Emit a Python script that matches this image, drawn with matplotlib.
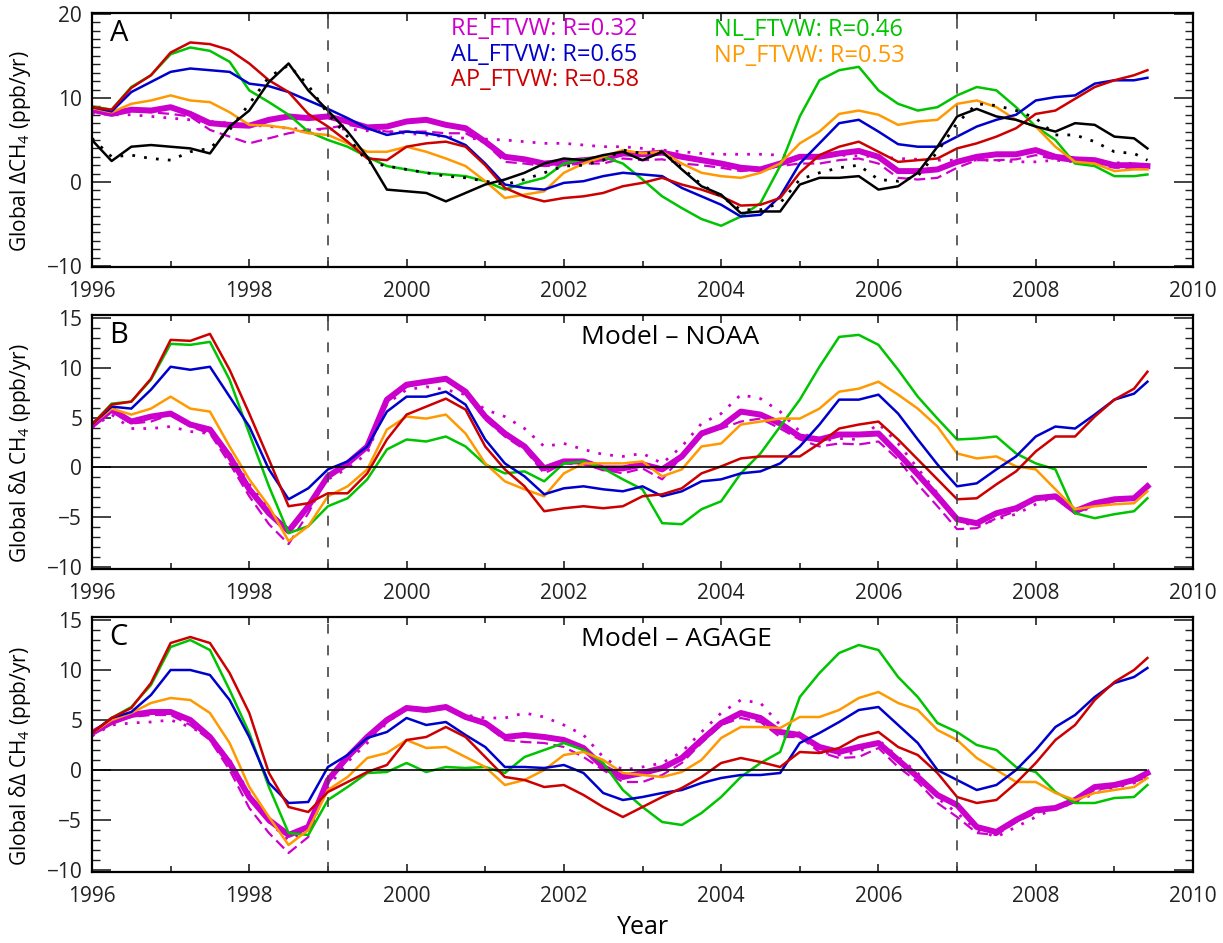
import numpy as np
import matplotlib
matplotlib.use("Agg")
import matplotlib.pyplot as plt
from matplotlib.ticker import MultipleLocator

plt.rcParams['font.family'] = ['Open Sans', 'DejaVu Sans']
plt.rcParams['mathtext.fontset'] = 'custom'
plt.rcParams['mathtext.rm'] = 'Open Sans'
plt.rcParams['mathtext.it'] = 'Open Sans'

# quarterly samples, last point is the end of the record
t = np.append(np.arange(1996.0, 2009.3, 0.25), 2009.42)

# ---- panel A: global CH4 growth rate ----
a_re = [8.6, 8.1, 8.6, 8.5, 8.9, 8.1, 7.0, 6.8, 6.7, 7.4, 7.8, 7.6, 7.8, 7.2, 6.5, 6.6, 7.2, 7.4, 6.8, 6.4,
        4.8, 3.0, 2.7, 2.2, 2.4, 2.6, 2.8, 3.4, 3.3, 3.5, 3.0, 2.6, 2.2, 1.7, 1.5, 2.2, 3.0, 3.0, 3.4, 3.7,
        3.0, 1.3, 1.3, 1.5, 2.4, 3.0, 3.3, 3.3, 3.8, 3.0, 2.7, 2.6, 2.0, 2.0, 1.9]
a_re_dash = [8.5, 8.1, 8.5, 8.3, 8.1, 7.8, 6.2, 5.4, 4.6, 5.2, 5.8, 6.2, 6.4, 6.8, 6.4, 6.0, 6.0, 6.0, 5.8, 5.8,
             4.6, 2.4, 2.2, 1.9, 2.0, 2.2, 2.2, 2.8, 2.6, 2.7, 2.2, 2.0, 1.7, 1.3, 1.5, 1.9, 2.2, 2.2, 2.6, 2.8,
             2.2, 0.5, 0.3, 0.5, 1.7, 2.6, 2.6, 2.7, 3.2, 2.7, 2.4, 2.2, 1.7, 1.7, 1.7]
a_re_dot = [8.2, 8.0, 8.0, 7.8, 7.6, 7.4, 7.2, 7.0, 6.8, 6.6, 6.4, 6.2, 6.3, 6.3, 6.1, 6.0, 5.8, 5.6, 5.4, 5.2,
            5.1, 5.0, 4.8, 4.6, 4.6, 4.4, 4.2, 4.2, 4.0, 3.8, 3.6, 3.4, 3.3, 3.3, 3.3, 3.2, 3.0, 3.0, 3.2, 3.1,
            3.0, 2.8, 2.7, 2.6, 2.6, 2.6, 2.6, 2.4, 2.4, 2.6, 2.4, 2.4, 2.3, 2.2, 2.0]
a_al = [8.9, 8.4, 10.7, 11.9, 13.1, 13.5, 13.3, 13.1, 11.7, 11.4, 10.7, 9.7, 8.7, 7.6, 6.4, 5.6, 6.0, 5.8, 5.4, 4.4,
        2.2, -0.3, -0.7, -0.9, -0.1, 0.1, 0.7, 1.1, 0.9, 0.7, -0.7, -1.7, -2.7, -4.1, -3.9, -1.7, 2.2, 4.6, 7.0, 7.4,
        6.0, 4.5, 4.2, 4.2, 5.4, 6.6, 7.4, 8.0, 9.7, 10.1, 10.3, 11.7, 12.1, 12.1, 12.4]
a_ap = [8.9, 8.6, 11.2, 12.7, 15.4, 16.6, 16.4, 15.7, 14.1, 12.1, 10.7, 8.1, 6.6, 4.8, 2.8, 2.6, 4.2, 4.6, 4.8, 4.2,
        2.0, -0.7, -1.7, -2.3, -1.9, -1.7, -1.3, -0.5, -0.1, 0.5, -0.3, -0.9, -1.7, -2.8, -2.7, -1.9, 1.1, 3.2, 4.2, 4.8,
        3.6, 2.4, 2.6, 2.8, 4.0, 4.6, 5.4, 6.4, 8.1, 8.5, 9.9, 11.3, 12.1, 12.7, 13.3]
a_nl = [9.0, 8.6, 11.3, 12.7, 15.2, 16.0, 15.6, 14.3, 10.9, 9.5, 8.0, 6.0, 5.0, 4.2, 3.0, 1.9, 1.5, 1.1, 0.9, 0.7,
        0.1, -0.9, -0.1, 0.5, 2.2, 2.7, 3.0, 2.2, 0.3, -1.7, -3.1, -4.4, -5.2, -4.1, -2.5, 1.9, 7.8, 12.1, 13.3, 13.7,
        10.9, 9.3, 8.5, 8.9, 10.3, 11.3, 10.9, 8.9, 6.6, 5.0, 2.2, 1.9, 0.7, 0.7, 0.9]
a_np = [8.8, 8.3, 9.3, 9.7, 10.3, 9.7, 9.5, 8.3, 6.8, 6.7, 6.4, 5.8, 5.6, 4.6, 3.6, 3.6, 4.2, 3.6, 2.8, 1.9,
        0.1, -1.9, -1.5, -1.1, 1.1, 2.2, 3.0, 3.8, 3.4, 3.6, 2.2, 1.1, 0.7, 0.5, 1.1, 2.2, 4.6, 6.0, 8.1, 8.5,
        8.0, 6.8, 7.2, 7.4, 9.3, 9.7, 8.9, 7.4, 6.6, 4.2, 2.4, 2.2, 1.3, 1.5, 1.5]
a_noaa = [5.0, 2.5, 4.2, 4.4, 4.2, 4.0, 3.4, 6.6, 8.5, 11.9, 14.1, 10.9, 8.5, 6.0, 3.0, -0.9, -1.1, -1.3, -2.3, -1.3,
          -0.3, 0.3, 1.1, 2.2, 2.8, 2.6, 3.2, 3.6, 2.6, 3.6, 1.5, -0.5, -1.5, -3.7, -3.5, -3.5, -0.3, 0.5, 0.5, 0.7,
          -0.9, -0.5, 1.1, 4.2, 7.8, 8.7, 7.8, 7.4, 6.6, 6.0, 7.0, 6.8, 5.4, 5.2, 4.0]
a_agage = [5.2, 3.0, 3.2, 2.8, 2.6, 3.6, 4.0, 6.2, 9.3, 12.5, 13.9, 11.5, 8.1, 5.4, 2.4, 1.9, 1.5, 1.1, 0.7, 0.5,
           0.1, -0.3, 0.3, 1.1, 1.9, 2.0, 2.6, 3.8, 3.4, 3.6, 1.7, -0.3, -1.7, -3.3, -3.3, -2.5, 0.3, 1.1, 1.7, 2.0,
           0.3, 0.1, 0.7, 3.6, 7.0, 9.3, 9.1, 8.5, 7.6, 5.6, 5.6, 4.8, 3.6, 3.4, 2.6]

# ---- panel B: model minus NOAA ----
b_re = [4.2, 5.8, 4.6, 5.1, 5.4, 4.3, 3.8, 1.1, -2.2, -4.6, -6.4, -3.9, -0.9, 0.4, 2.1, 6.8, 8.3, 8.6, 8.9, 7.6,
        5.1, 3.4, 2.1, -0.1, 0.6, 0.6, -0.1, -0.1, 0.3, -0.2, 1.1, 3.4, 4.1, 5.6, 5.3, 4.4, 3.1, 2.8, 3.3, 3.3,
        3.4, 1.4, -0.7, -2.9, -5.2, -5.6, -4.6, -4.1, -3.1, -2.9, -4.4, -3.6, -3.2, -3.1, -1.9]
b_re_dash = [4.2, 5.6, 4.4, 4.6, 5.3, 4.1, 3.4, 0.4, -2.9, -5.7, -7.7, -4.6, -0.9, 0.4, 2.1, 6.8, 8.1, 8.5, 8.8, 7.4,
             4.8, 3.1, 1.8, -0.6, 0.4, 0.3, -0.2, -0.6, -0.1, -1.2, 1.1, 3.6, 3.9, 4.6, 4.9, 3.9, 2.8, 2.1, 2.4, 2.3,
             2.6, 0.8, -1.7, -3.9, -6.2, -6.1, -5.1, -4.4, -3.2, -3.1, -4.6, -3.7, -3.4, -3.2, -2.2]
b_re_dot = [4.0, 5.3, 3.9, 3.9, 4.1, 3.6, 3.4, 1.4, -1.7, -4.2, -6.6, -3.7, -1.2, -0.1, 1.4, 6.4, 7.8, 8.1, 7.8, 7.3,
            5.8, 5.1, 3.9, 2.1, 2.4, 1.8, 1.3, 1.1, 1.4, 0.4, 2.1, 4.4, 5.4, 7.3, 6.9, 5.6, 3.6, 2.6, 2.9, 2.8,
            4.4, 2.4, -0.1, -2.6, -5.4, -5.9, -5.2, -4.7, -3.7, -2.9, -4.6, -3.9, -3.4, -3.2, -2.2]
b_al = [4.3, 6.1, 5.9, 7.8, 10.1, 9.8, 10.1, 7.1, 4.1, -0.2, -3.2, -2.1, -0.2, 0.6, 2.1, 5.6, 7.1, 7.1, 7.6, 6.3,
        2.8, 0.4, -0.9, -2.7, -2.1, -1.9, -2.2, -2.4, -1.9, -2.9, -2.4, -1.4, -1.2, -0.6, -0.4, 0.4, 2.1, 4.3, 6.8, 6.8,
        7.3, 5.4, 2.8, 0.3, -1.9, -1.6, -0.2, 1.1, 3.1, 4.1, 3.9, 5.3, 6.8, 7.4, 8.6]
b_ap = [4.3, 6.3, 6.6, 8.9, 12.8, 12.7, 13.4, 9.8, 5.4, 0.8, -3.9, -3.6, -2.6, -2.6, -0.6, 2.8, 5.3, 6.1, 6.9, 5.8,
        2.1, -0.2, -1.9, -4.4, -4.1, -3.9, -4.1, -3.9, -2.9, -2.7, -2.1, -0.6, 0.1, 0.9, 1.1, 1.1, 1.1, 2.4, 3.9, 4.3,
        4.6, 2.8, 0.8, -1.2, -3.2, -3.1, -1.7, -0.4, 1.6, 3.1, 3.1, 5.1, 6.8, 7.9, 9.6]
b_nl = [4.3, 6.4, 6.6, 8.8, 12.4, 12.3, 12.6, 8.8, 3.4, -1.9, -6.6, -5.9, -3.9, -3.1, -1.2, 1.8, 2.8, 2.6, 3.1, 2.1,
        0.3, -0.6, -0.4, -1.4, 0.4, 0.6, -0.1, -1.2, -2.2, -5.6, -5.7, -4.2, -3.4, -0.6, 1.4, 4.1, 6.8, 10.1, 13.1, 13.3,
        12.3, 9.8, 7.1, 4.9, 2.8, 2.9, 3.1, 1.4, 0.4, -0.2, -4.6, -5.1, -4.7, -4.4, -3.1]
b_np = [4.3, 5.9, 5.3, 5.9, 7.1, 5.9, 5.6, 2.1, -1.2, -3.9, -7.4, -5.9, -2.9, -1.9, -0.2, 3.8, 5.1, 4.9, 5.3, 3.4,
        0.4, -1.4, -2.2, -2.9, -0.6, 0.4, 0.4, 0.4, 0.6, -0.9, -0.2, 2.1, 2.4, 4.3, 4.6, 4.9, 4.9, 5.9, 7.6, 7.9,
        8.6, 7.3, 5.9, 4.1, 1.4, 0.9, 1.1, 0.1, -0.2, -2.2, -4.2, -3.9, -3.7, -3.6, -2.4]

# ---- panel C: model minus AGAGE ----
c_re = [3.7, 4.8, 5.5, 5.8, 5.8, 5.0, 3.3, 0.7, -2.7, -5.0, -6.5, -5.7, -1.0, 1.3, 3.3, 5.0, 6.2, 6.0, 6.3, 5.3,
        4.7, 3.3, 3.5, 3.3, 3.0, 2.2, 0.3, -0.7, -0.3, 0.2, 1.2, 3.0, 4.7, 5.7, 5.2, 3.8, 3.5, 2.3, 1.8, 2.3,
        2.7, 1.0, -0.7, -2.5, -3.5, -5.7, -6.2, -5.0, -4.0, -3.8, -3.0, -1.7, -1.5, -1.0, -0.3]
c_re_dash = [3.7, 4.8, 5.3, 5.5, 5.5, 4.5, 3.0, 0.0, -3.8, -6.3, -8.3, -6.7, -1.2, 1.3, 3.3, 4.8, 6.2, 5.8, 6.2, 5.2,
             4.5, 3.0, 2.8, 2.7, 2.3, 1.3, 0.0, -1.2, -1.2, -0.5, 0.7, 2.7, 4.5, 5.2, 4.8, 3.3, 3.3, 1.8, 1.2, 1.3,
             2.2, 0.3, -1.2, -3.3, -4.7, -6.3, -6.5, -5.2, -4.3, -3.8, -3.0, -2.0, -1.7, -1.2, -0.7]
c_re_dot = [3.4, 4.5, 4.7, 4.8, 5.0, 4.3, 3.3, 1.0, -2.3, -5.2, -7.0, -6.0, -1.7, 0.8, 2.7, 4.7, 6.3, 6.0, 6.2, 5.5,
            5.2, 5.2, 5.7, 5.3, 4.5, 3.5, 1.3, 0.0, 0.3, 0.7, 1.8, 3.8, 5.7, 7.0, 6.7, 4.5, 3.7, 1.8, 1.5, 1.8,
            3.0, 1.3, -0.3, -2.8, -4.3, -6.0, -6.7, -5.7, -4.7, -3.8, -3.3, -2.3, -1.8, -1.3, -0.7]
c_al = [3.7, 5.2, 5.8, 7.5, 10.0, 10.0, 9.5, 7.0, 3.3, -1.3, -3.3, -3.2, 0.3, 1.5, 3.2, 3.8, 5.2, 4.5, 4.8, 3.5,
        2.3, 0.3, 0.3, 0.2, 0.5, -0.3, -2.3, -3.0, -2.7, -2.3, -2.0, -1.3, -0.8, -0.5, -0.5, -0.3, 2.7, 3.7, 4.8, 6.0,
        6.3, 4.5, 2.7, 0.0, -1.0, -2.0, -1.5, 0.0, 2.0, 4.3, 5.5, 7.3, 8.7, 9.3, 10.2]
c_ap = [3.7, 5.2, 6.2, 8.7, 12.7, 13.3, 12.7, 9.7, 5.7, -0.3, -3.7, -4.2, -2.2, -1.2, -0.2, 0.5, 3.0, 3.3, 4.3, 3.3,
        1.3, -0.7, -1.0, -1.7, -1.5, -2.5, -3.7, -4.7, -3.7, -2.7, -1.8, -0.7, 0.7, 1.2, 0.8, 0.3, 1.8, 1.7, 2.2, 3.3,
        3.8, 2.3, 1.5, -0.3, -2.7, -3.3, -3.0, -1.3, 0.7, 3.0, 4.5, 7.0, 8.8, 10.0, 11.2]
c_nl = [3.7, 5.2, 6.3, 8.5, 12.3, 13.0, 12.0, 8.0, 3.7, -1.7, -6.3, -6.5, -3.0, -1.7, -0.3, -0.2, 0.7, -0.2, 0.3, 0.2,
        0.3, -0.3, 1.3, 2.0, 2.7, 2.0, 0.7, -2.0, -3.7, -5.2, -5.5, -4.3, -2.7, -0.7, 0.7, 1.8, 7.3, 9.7, 11.7, 12.5,
        12.0, 9.3, 7.3, 4.7, 3.8, 2.5, 2.0, 0.3, -0.2, -2.2, -3.3, -3.3, -2.8, -2.7, -1.5]
c_np = [3.7, 5.0, 5.7, 6.7, 7.2, 7.0, 5.7, 2.7, -1.7, -4.7, -7.5, -6.0, -2.0, -0.7, 1.2, 1.7, 3.0, 2.2, 2.3, 1.3,
        0.3, -1.5, -1.0, 0.0, 1.5, 1.8, 1.0, -0.3, -0.5, -0.7, -0.2, 1.0, 3.2, 4.3, 4.3, 4.2, 5.3, 5.3, 6.0, 7.2,
        7.8, 6.7, 6.0, 4.0, 3.0, 1.2, 0.0, -1.2, -1.2, -2.3, -3.0, -2.3, -2.0, -1.7, -0.8]

legend_names = ['RE_FTVW', 'AL_FTVW', 'AP_FTVW', 'NL_FTVW', 'NP_FTVW']
legend_r = [0.32, 0.65, 0.58, 0.46, 0.53]

MAG = '#cc00cc'
BLUE = '#0000cc'
RED = '#cc0000'
GREEN = '#00c400'
ORANGE = '#ff9900'
legend_colors = [MAG, BLUE, RED, GREEN, ORANGE]


def draw_models(ax, re, re_dash, re_dot, al, ap, nl, npp):
    ax.plot(t, re_dot, color=MAG, lw=2.0, ls=(0, (1, 3.3)))
    ax.plot(t, re_dash, color=MAG, lw=1.6, ls=(0, (5, 2.5)))
    ax.plot(t, re, color=MAG, lw=4.3, solid_joinstyle='round')
    ax.plot(t, nl, color=GREEN, lw=1.8)
    ax.plot(t, npp, color=ORANGE, lw=1.8)
    ax.plot(t, al, color=BLUE, lw=1.8)
    ax.plot(t, ap, color=RED, lw=1.8)


def style_axis(ax, ylim, ymajor, ylabel, letter):
    ax.set_xlim(1996, 2010)
    ax.set_ylim(*ylim)
    ax.xaxis.set_major_locator(MultipleLocator(2))
    ax.xaxis.set_minor_locator(MultipleLocator(1))
    ax.yaxis.set_major_locator(MultipleLocator(ymajor))
    ax.yaxis.set_minor_locator(MultipleLocator(1))
    ax.tick_params(which='both', direction='in', top=True, right=True, colors='#222222')
    ax.tick_params(axis='x', which='major', length=6, width=1.2, labelsize=15, pad=10)
    ax.tick_params(axis='x', which='minor', length=4, width=1.2)
    ax.tick_params(axis='y', which='major', length=14, width=1.2, labelsize=15, pad=7)
    ax.tick_params(axis='y', which='minor', length=6, width=1.0)
    for s in ax.spines.values():
        s.set_linewidth(1.6)
    for yr in (1999, 2007):
        ax.axvline(yr, color='#444444', lw=1.2, ls=(0, (6, 7)))
    ax.set_ylabel(ylabel, fontsize=15)
    ax.yaxis.set_label_coords(-0.054, 0.455)
    ax.text(0.016, 0.975, letter, transform=ax.transAxes, fontsize=21,
            ha='left', va='top')


fig = plt.figure(figsize=(12.23, 9.43), dpi=100)
left, width = 0.0752, 0.9003
axA = fig.add_axes([left, 0.7169, width, 0.2693])
axB = fig.add_axes([left, 0.3966, width, 0.2694])
axC = fig.add_axes([left, 0.0753, width, 0.2704])

# panel A
draw_models(axA, a_re, a_re_dash, a_re_dot, a_al, a_ap, a_nl, a_np)
axA.plot(t, a_agage, color='black', lw=2.0, ls=(0, (1, 3.3)))
axA.plot(t, a_noaa, color='black', lw=1.8)
style_axis(axA, (-10.1, 20.1), 10, 'Global $\\Delta$CH$_4$ (ppb/yr)', 'A')

lx = [0.326, 0.326, 0.326, 0.565, 0.565]
ly = [0.937, 0.835, 0.736, 0.933, 0.831]
for name, r, c, x, y in zip(legend_names, legend_r, legend_colors, lx, ly):
    axA.text(x, y, '%s: R=%.2f' % (name, r), color=c, fontsize=17,
             transform=axA.transAxes, ha='left', va='center')

# panel B
draw_models(axB, b_re, b_re_dash, b_re_dot, b_al, b_ap, b_nl, b_np)
axB.hlines(0, t[0], t[-1], color='black', lw=1.2)
style_axis(axB, (-10.2, 15.3), 5, 'Global $\\delta\\Delta$ CH$_4$ (ppb/yr)', 'B')
axB.text(0.444, 0.913, 'Model \u2013 NOAA', transform=axB.transAxes, fontsize=19,
         ha='left', va='center')

# panel C
draw_models(axC, c_re, c_re_dash, c_re_dot, c_al, c_ap, c_nl, c_np)
axC.hlines(0, t[0], t[-1], color='black', lw=1.2)
style_axis(axC, (-10.2, 15.3), 5, 'Global $\\delta\\Delta$ CH$_4$ (ppb/yr)', 'C')
axC.text(0.444, 0.913, 'Model \u2013 AGAGE', transform=axC.transAxes, fontsize=19,
         ha='left', va='center')

fig.text(0.526, 1 - 928 / 943, 'Year', fontsize=18, ha='center', va='center')

fig.savefig('out.png', dpi=100)
